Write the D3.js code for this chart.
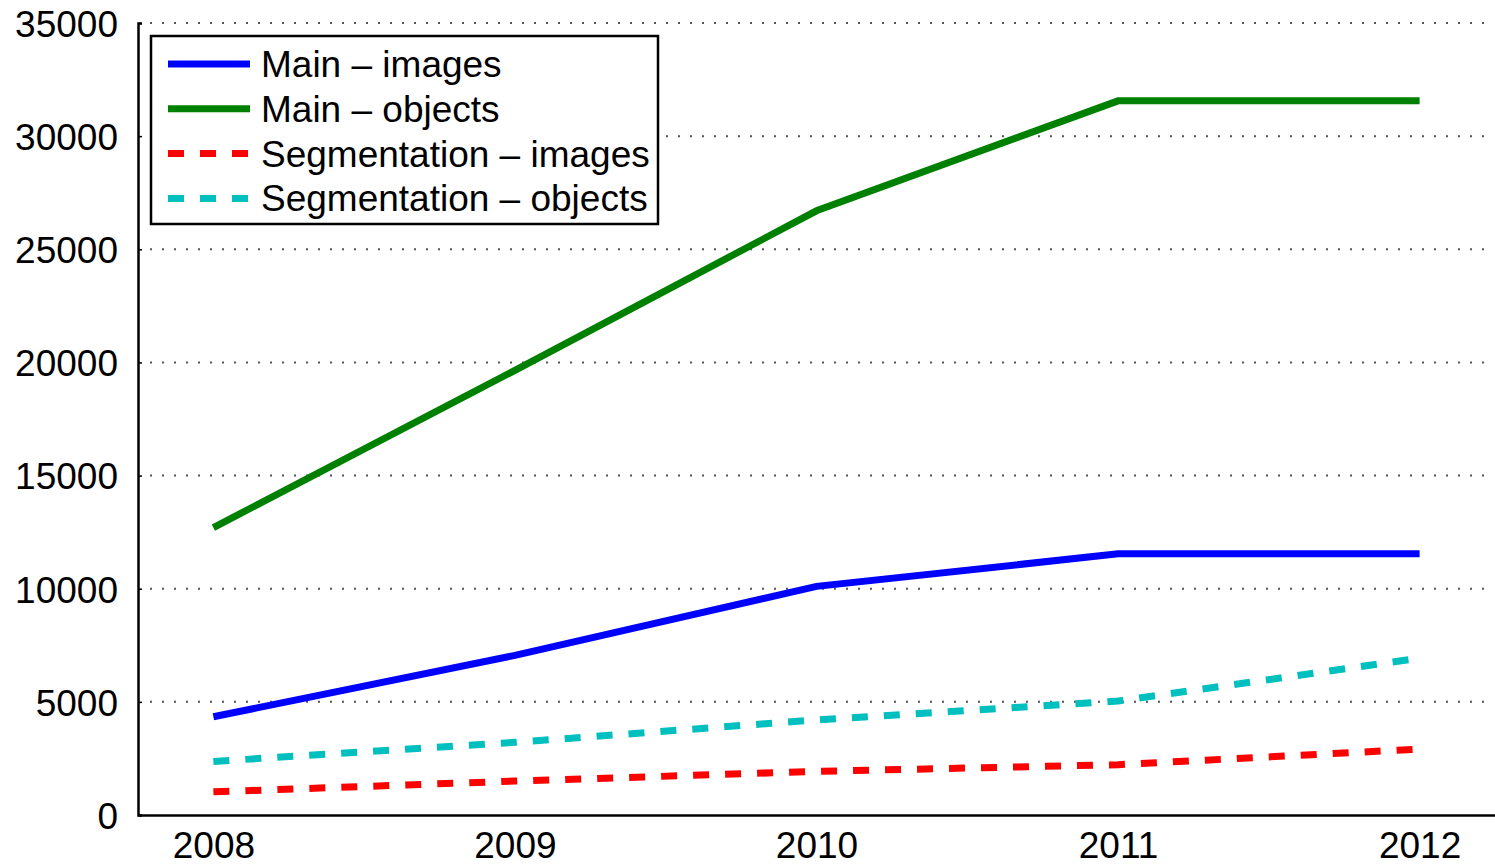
<!DOCTYPE html>
<html>
<head>
<meta charset="utf-8">
<script src="https://cdn.jsdelivr.net/npm/d3@7"></script>
<style>
  body { margin: 0; background: #fff; }
  text { font-family: "Liberation Sans", Helvetica, Arial, sans-serif; }
</style>
</head>
<body>
<div id="chart"></div>
<script>
// data
var years = [2008, 2009, 2010, 2011, 2012];
var mainImages = [4340, 7054, 10103, 11540, 11540];
var mainObjects = [12700, 19650, 26700, 31560, 31560];
var segImages = [1023, 1499, 1928, 2223, 2913];
var segObjects = [2369, 3211, 4203, 5034, 6929];
var yTicks = [0, 5000, 10000, 15000, 20000, 25000, 30000, 35000];

var series = [
  {name: "Main \u2013 images", values: mainImages, color: "#0000ff", dash: null},
  {name: "Main \u2013 objects", values: mainObjects, color: "#008000", dash: null},
  {name: "Segmentation \u2013 images", values: segImages, color: "#ff0000", dash: "16,16"},
  {name: "Segmentation \u2013 objects", values: segObjects, color: "#00bfbf", dash: "16,16"}
];

var W = 1495, H = 867;
var plotLeft = 138, plotBottom = 815, plotTop = 23;

var svg = d3.select("#chart")
  .append("svg")
    .attr("width", W)
    .attr("height", H);

var x = d3.scaleLinear()
  .domain([2007.75, 2012.25])
  .range([plotLeft, W]);

var y = d3.scaleLinear()
  .domain([0, 35000])
  .range([plotBottom, plotTop]);

// dotted grid
svg.append("g")
  .selectAll("line")
  .data(yTicks.filter(function (d) { return d > 0; }))
  .enter()
  .append("line")
    .attr("x1", plotLeft + 12)
    .attr("x2", W - 6)
    .attr("y1", function (d) { return y(d); })
    .attr("y2", function (d) { return y(d); })
    .style("stroke", "#555")
    .style("stroke-width", 2)
    .style("stroke-dasharray", "2,10");

// Y axis
var yAxis = svg.append("g")
  .attr("transform", "translate(" + plotLeft + ",0)")
  .call(d3.axisLeft(y).tickValues(yTicks).tickSize(-4).tickPadding(20).tickFormat(d3.format("d")));
yAxis.select(".domain").style("stroke-width", 2.5);
yAxis.selectAll("text").style("font-size", "37px").attr("fill", "#000").attr("dy", "0.36em");
yAxis.selectAll(".tick line").style("stroke-width", 1.5);

// X axis
var xAxis = svg.append("g")
  .attr("transform", "translate(0," + plotBottom + ")")
  .call(d3.axisBottom(x).tickValues(years).tickSize(0).tickPadding(17).tickFormat(d3.format("d")));
xAxis.select(".domain").style("stroke-width", 2.5);
xAxis.selectAll("text").style("font-size", "37px").attr("fill", "#000");

// lines
var line = d3.line()
  .x(function (d, i) { return x(years[i]); })
  .y(function (d) { return y(d); });

svg.append("g")
  .selectAll("path")
  .data(series)
  .enter()
  .append("path")
    .attr("d", function (d) { return line(d.values); })
    .style("fill", "none")
    .style("stroke", function (d) { return d.color; })
    .style("stroke-width", 7)
    .style("stroke-dasharray", function (d) { return d.dash; });

// Handmade legend
var lg = svg.append("g");
lg.append("rect")
  .attr("x", 151).attr("y", 36).attr("width", 507).attr("height", 188)
  .style("fill", "#fff").style("stroke", "#000").style("stroke-width", 2.5);

series.forEach(function (s, i) {
  var cy = 64 + i * 44.8;
  lg.append("line")
    .attr("x1", 168).attr("x2", 250).attr("y1", cy).attr("y2", cy)
    .style("stroke", s.color).style("stroke-width", 7)
    .style("stroke-dasharray", s.dash);
  lg.append("text")
    .attr("x", 261).attr("y", cy + 13)
    .text(s.name)
    .style("font-size", "37px");
});
</script>
</body>
</html>
